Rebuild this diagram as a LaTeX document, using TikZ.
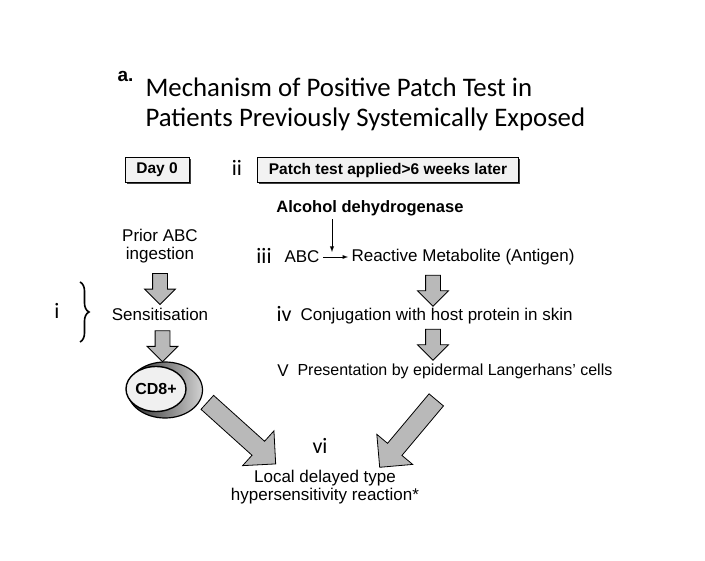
\documentclass[tikz,border=0pt]{standalone}
\usepackage{fontspec}
\setmainfont{Liberation Sans}
\newfontfamily\calfont{Carlito}
\usetikzlibrary{shapes.arrows,shapes.geometric,decorations.pathreplacing,shadows,calc}

\begin{document}
\begin{tikzpicture}[x=1pt,y=-1pt,>=latex,
  txt/.style={font=\fontsize{17}{17}\selectfont},
  numeral/.style={font=\calfont\fontsize{22}{22}\selectfont},
  headbox/.style={draw=black, line width=0.8pt, fill=gray!10, minimum height=25pt,
    font=\bfseries\fontsize{15.5}{16}\selectfont,
    drop shadow={shadow xshift=1.6pt, shadow yshift=-1.6pt, opacity=1, fill=black!75}},
  blockarrow/.style={single arrow, draw=black, fill=gray!55, line width=0.8pt,
    inner sep=7pt, single arrow head extend=8pt, minimum height=31pt}
]
  \useasboundingbox (0,0) rectangle (705,561);

  % title
  \node[anchor=west, font=\bfseries\fontsize{19}{20}\selectfont] (lbl) at (114,76) {a.};
  \node[anchor=west, align=left, font=\calfont\fontsize{26.8}{30}\selectfont] (title) at (142,104)
    {Mechanism of Positive Patch Test in\\Patients Previously Systemically Exposed};

  % header boxes
  \node[headbox, minimum width=64pt] (day) at (157,170) {Day 0};
  \node[numeral] (nii) at (237,168) {ii};
  \node[headbox, minimum width=261pt] (patch) at (388,170) {Patch test applied>6 weeks later};

  % left column
  \node[txt, align=center] (prior) at (160,246) {Prior ABC\\[1pt]ingestion};
  \node[txt] (sens) at (160,314) {Sensitisation};
  \node[ellipse, draw=black, line width=1.2pt, minimum width=75pt, minimum height=56pt,
    left color=black!85, right color=gray!35] (cd8) at (165,390) {};
  \node[ellipse, draw=black, line width=1.4pt, fill=gray!12, minimum width=60pt, minimum height=45pt,
    inner sep=0pt, font=\bfseries\fontsize{16}{16}\selectfont] (cd8in) at (156,389) {CD8+};
  \draw[decorate, decoration={brace, amplitude=9pt}, line width=1.6pt] (80,282) -- (80,342);
  \node[numeral] (ni) at (57,311) {i};

  % right column
  \node[txt, font=\bfseries\fontsize{16.5}{17}\selectfont] (adh) at (370,208) {Alcohol dehydrogenase};
  \node[numeral] (niii) at (264,256) {iii};
  \node[txt] (abc) at (302,257) {ABC};
  \node[txt, anchor=west] (react) at (348,257) {Reactive Metabolite (Antigen)};
  \coordinate (hit) at (332,252);
  \draw[->, line width=0.9pt] (adh.south -| hit) -- (hit);
  \draw[->, line width=0.9pt] (abc.east) -- (react.west);
  \node[numeral] (niv) at (284,314) {iv};
  \node[txt, anchor=west] (conj) at (297,316) {Conjugation with host protein in skin};
  \node[txt] (nv) at (283,371) {V};
  \node[txt, anchor=west, font=\fontsize{16}{17}\selectfont] (pres) at (294,371)
    {Presentation by epidermal Langerhans' cells};

  % result
  \node[numeral] (nvi) at (320,446) {vi};
  \node[txt, align=center] (res) at (325,487) {Local delayed type\\[1pt]hypersensitivity reaction*};

  % block arrows
  \node[blockarrow, shape border rotate=270] (a1) at ($(prior.south)!0.5!(sens.north)$) {};
  \node[blockarrow, shape border rotate=270] (a2) at ($(sens.south)!0.5!(cd8.north)$) {};
  \node[blockarrow, shape border rotate=270] (a3) at (433,287) {};
  \node[blockarrow, shape border rotate=270] (a4) at (433,341) {};
  \node[blockarrow, rotate=-42, inner sep=9pt, minimum height=92pt,
    single arrow head extend=14pt] (a5) at (238,430) {};
  \node[blockarrow, rotate=-130, inner sep=9pt, minimum height=88pt,
    single arrow head extend=14pt] (a6) at (411,430) {};
\end{tikzpicture}
\end{document}
